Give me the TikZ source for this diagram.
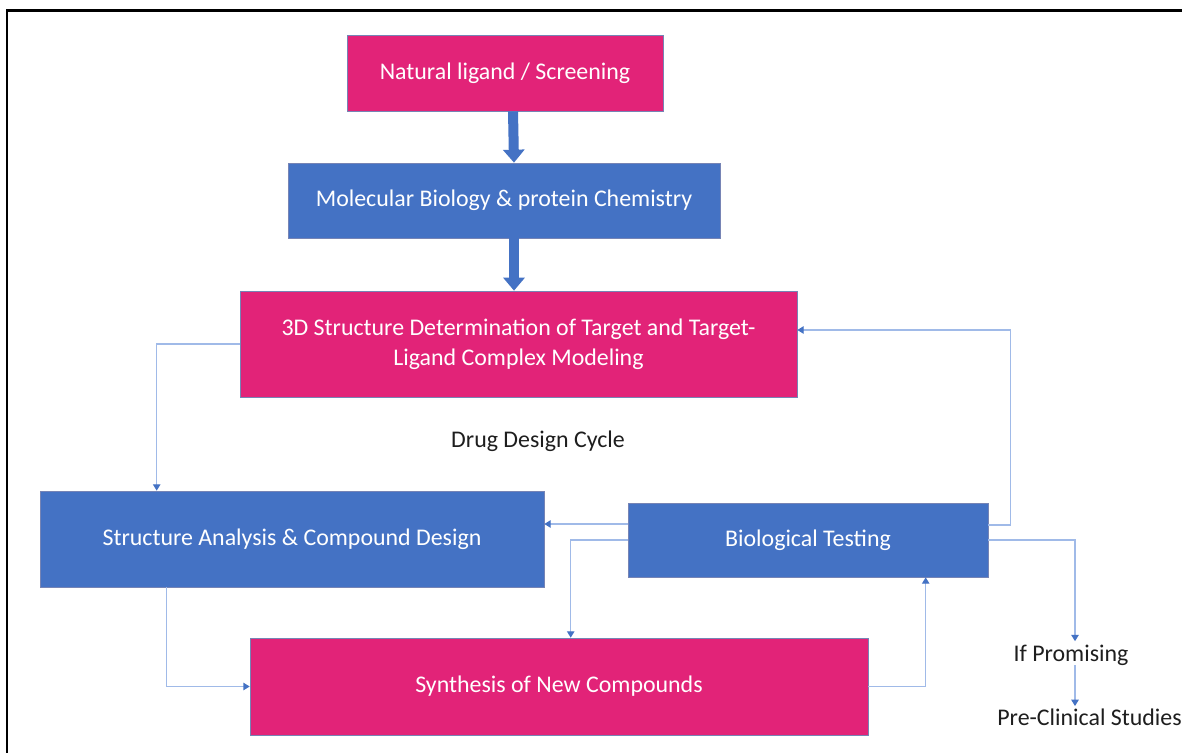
\documentclass[tikz,border=0pt]{standalone}
\usepackage{fontspec}
\setmainfont{Carlito}
\usetikzlibrary{arrows.meta,calc}
\definecolor{pinkbox}{RGB}{226,35,120}
\definecolor{bluebox}{RGB}{68,114,196}
\definecolor{edgeblue}{RGB}{60,80,150}
\definecolor{connblue}{RGB}{160,186,232}
\definecolor{tipblue}{RGB}{68,114,196}
\definecolor{txtdark}{RGB}{30,30,30}
\tikzset{
  boxbase/.style={draw=edgeblue!70, line width=0.4pt, text=white, align=center, inner sep=0pt, font=\fontsize{13.6}{17}\selectfont},
  pinkstep/.style={boxbase, fill=pinkbox},
  bluestep/.style={boxbase, fill=bluebox},
  plain/.style={text=txtdark, inner sep=0pt, font=\fontsize{13.6}{16}\selectfont},
  bigarrow/.style={draw=bluebox, line width=10*0.02cm, -{Triangle[width=0.42cm,length=0.26cm]}},
  conn/.style={draw=connblue, line width=0.7pt, -{Triangle[width=4.2pt,length=3.6pt,color=tipblue]}},
}
\begin{document}
\begin{tikzpicture}[x=0.02cm,y=-0.02cm]
\useasboundingbox (0,0) rectangle (1182,753);
\fill[white] (0,0) rectangle (1182,753);
\draw[line width=1.5pt, black] (7,760) -- (7,10.5) -- (1190,10.5);

\node[pinkstep, minimum width=6.32cm, minimum height=1.52cm] (b1) at (505,73) {Natural ligand / Screening};
\node[bluestep, minimum width=8.64cm, minimum height=1.5cm] (b2) at (504,200.5) {Molecular Biology \& protein Chemistry};
\node[pinkstep, minimum width=11.14cm, minimum height=2.12cm] (b3) at (518.5,344) {3D Structure Determination of Target and Target-\\Ligand Complex Modeling};
\node[plain] (ddc) at (538,441) {Drug Design Cycle};
\node[bluestep, minimum width=10.08cm, minimum height=1.92cm] (b5) at (292,539) {Structure Analysis \& Compound Design};
\node[bluestep, minimum width=7.2cm, minimum height=1.48cm] (b6) at (808,540) {Biological Testing};
\node[pinkstep, minimum width=12.36cm, minimum height=1.94cm] (b7) at (559,686.5) {Synthesis of New Compounds};
\node[plain, anchor=base] (ip) at (1071,661) {If Promising};
\node[plain, anchor=base west] (pc) at (997,725) {Pre-Clinical Studies};

% thick arrows
\draw[bigarrow] ($(b1.south)+(8,0)$) -- ($(b2.north)+(10,0)$);
\draw[bigarrow] ($(b2.south)+(10,0)$) -- ($(b3.north)+(-4.5,0)$);

% thin connectors
\draw[conn] (b3.west) -| ($(b5.north west)+(117,0)$);
\draw[conn] ($(b5.south west)+(127,0)$) |- (b7.west);
\draw[conn] (b7.east) -| ($(b6.south west)+(298,0)$);
\coordinate (c1) at ($(b6.west)+(0,-16)$);
\draw[conn] (c1) -- (c1 -| b5.east);
\draw[conn] (b6.west) -| ($(b7.north west)+(321,0)$);
\coordinate (c2) at ($(b6.east)+(0,-15)$);
\coordinate (c3) at ($(b3.east)+(0,-14)$);
\draw[conn] (c2) -- ++(22,0) |- (c3);
\coordinate (c4) at ($(ip.north)+(4,-3)$);
\draw[conn] (b6.east) -| (c4);
\coordinate (c5) at ($(ip.south)+(4,0)$);
\draw[conn] (c5) -- ($(c5 |- pc.north)+(0,-2)$);
\end{tikzpicture}
\end{document}
